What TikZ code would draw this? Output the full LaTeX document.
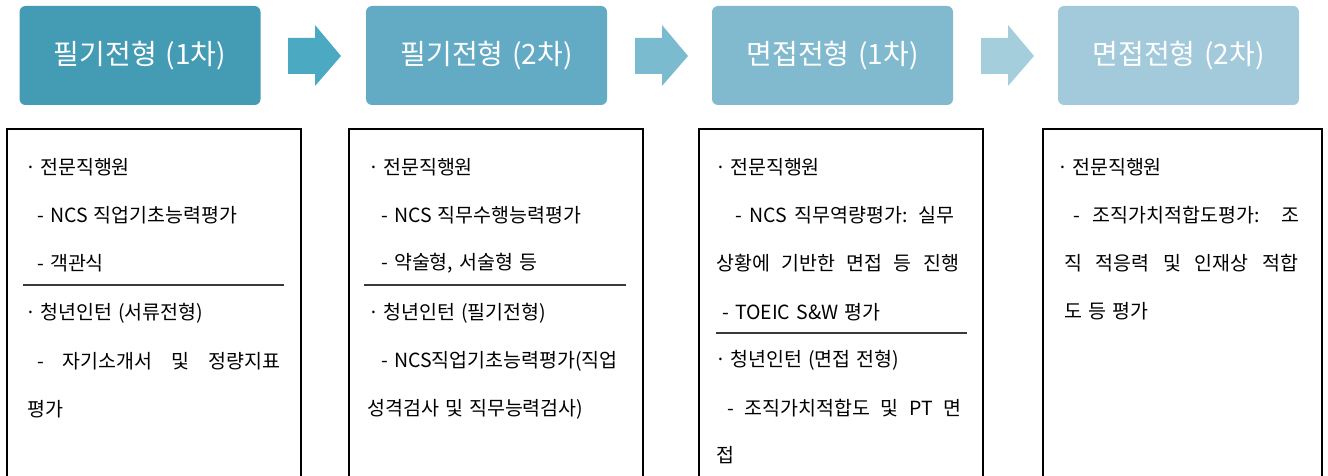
\documentclass[tikz,border=0pt]{standalone}
\usepackage{fontspec}
\setmainfont[WordSpace=1.4]{Noto Sans CJK KR}
\definecolor{hA}{HTML}{449BB4}
\definecolor{hB}{HTML}{63ABC4}
\definecolor{hC}{HTML}{81BACE}
\definecolor{hD}{HTML}{A3CADB}
\definecolor{aA}{HTML}{4BA9C2}
\definecolor{aB}{HTML}{7BBBD0}
\definecolor{aC}{HTML}{A5CEDD}
\definecolor{sepc}{HTML}{3A3A3A}
\newcommand\jline[2]{\makebox[#1][s]{#2}}
\newcommand\mdt{\makebox[15pt][l]{·}}
\newcommand\blockarr[2]{\fill[#2] (#1,38) -- ++(27,0) -- ++(0,-13) -- ++(26,31) -- ++(-26,30) -- ++(0,-12) -- ++(-27,0) -- cycle;}
\begin{document}
\begin{tikzpicture}[x=1pt,y=-1pt,
  hdr/.style={rounded corners=6pt, minimum width=241pt, minimum height=99pt, inner sep=0pt, text=white, font=\fontsize{28}{32}\selectfont},
  ln/.style={anchor=west, inner sep=0pt, font=\fontsize{19.5}{23}\selectfont},
  frame/.style={line width=2pt, black},
  sepline/.style={line width=2pt, sepc}]
\useasboundingbox (0,0) rectangle (1328,476);
% headers
\node[hdr, fill=hA] (h1) at (140,55.5) {필기전형 (1차)};
\node[hdr, fill=hB] (h2) at (486.5,55.5) {필기전형 (2차)};
\node[hdr, fill=hC] (h3) at (832.5,55.5) {면접전형 (1차)};
\node[hdr, fill=hD] (h4) at (1178.5,55.5) {면접전형 (2차)};
% block arrows
\blockarr{288}{aA}
\blockarr{635}{aB}
\blockarr{981}{aC}
% frames
\draw[frame] (6.5,490) -- (6.5,129) -- (300.5,129) -- (300.5,490);
\draw[frame] (348.5,490) -- (348.5,129) -- (642.5,129) -- (642.5,490);
\draw[frame] (698.5,490) -- (698.5,129) -- (982.5,129) -- (982.5,490);
\draw[frame] (1043,490) -- (1043,129) -- (1321.5,129) -- (1321.5,490);
% separators
\draw[sepline] (23,285) -- (284,285);
\draw[sepline] (364,285) -- (626,285);
\draw[sepline] (716,333) -- (967,333);
% box A
\node[ln] (a1) at (25,167) {\mdt 전문직행원};
\node[ln] (a2) at (37,215) {- NCS 직업기초능력평가};
\node[ln] (a3) at (37,263) {- 객관식};
\node[ln] (a4) at (25,313) {\mdt 청년인턴 (서류전형)};
\node[ln] (a5) at (37,361) {\jline{243pt}{- 자기소개서 및 정량지표}};
\node[ln] (a6) at (27,409) {평가};
% box B
\node[ln] (b1) at (368,167) {\mdt 전문직행원};
\node[ln] (b2) at (381,215) {- NCS 직무수행능력평가};
\node[ln] (b3) at (381,263) {- 약술형, 서술형 등};
\node[ln] (b4) at (368,313) {\mdt 청년인턴 (필기전형)};
\node[ln] (b5) at (381,361) {- NCS직업기초능력평가(직업};
\node[ln] (b6) at (367,409) {성격검사 및 직무능력검사)};
% box C
\node[ln] (c1) at (715,167) {\mdt 전문직행원};
\node[ln] (c2) at (735,215) {\jline{219pt}{- NCS 직무역량평가: 실무}};
\node[ln] (c3) at (716,263) {\jline{243pt}{상황에 기반한 면접 등 진행}};
\node[ln] (c4) at (722,312) {- TOEIC S\&W 평가};
\node[ln] (c5) at (715,360) {\mdt 청년인턴 (면접 전형)};
\node[ln] (c6) at (727,408) {\jline{234pt}{- 조직가치적합도 및 PT 면}};
\node[ln] (c7) at (716,455) {접};
% box D
\node[ln] (d1) at (1057,167) {\mdt 전문직행원};
\node[ln] (d2) at (1073,215) {\jline{226pt}{- 조직가치적합도평가: 조}};
\node[ln] (d3) at (1064,263) {\jline{234pt}{직 적응력 및 인재상 적합}};
\node[ln] (d4) at (1064,311) {도 등 평가};
\end{tikzpicture}
\end{document}
